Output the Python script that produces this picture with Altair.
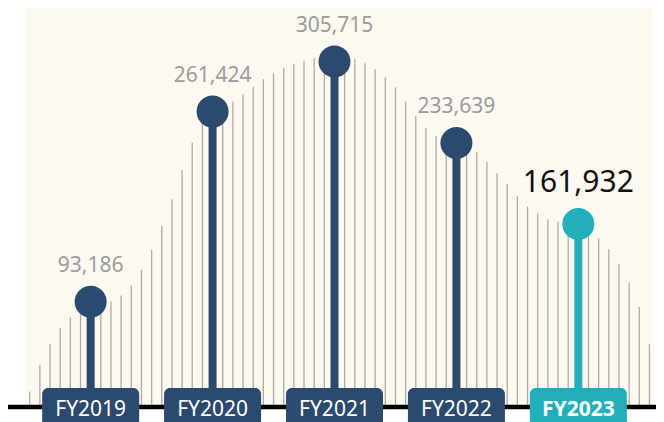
import altair as alt
import pandas as pd

# ---- data ----
years = ["FY2019", "FY2020", "FY2021", "FY2022", "FY2023"]
totals = [93186, 261424, 305715, 233639, 161932]
status = ["past", "past", "past", "past", "current"]
# decorative monthly trend lines (one per month)
monthly = [13700, 37170, 55490, 69650, 79210, 84960, 88500, 91160, 93370, 98680,
           107350, 121250, 138950, 160190, 183810, 209750, 233910, 253110, 261960, 265500,
           270190, 276740, 283470, 290010, 295320, 300280, 303560, 306480, 308600, 309480,
           309930, 309310, 307710, 304170, 298860, 291780, 282930, 270190, 257540, 247180,
           239840, 235410, 231870, 229220, 225680, 217090, 206820, 197360, 186470, 177270,
           171420, 166110, 163990, 161070, 157530, 153990, 149300, 139560, 126560, 110010,
           88500, 55490]

NAVY = "#2c4a6e"
TEAL = "#21afba"
CREAM = "#fdf9f1"
GREY_LINE = "#aeaaa4"
GREY_TEXT = "#9c9c9c"
FONT = "Noto Sans"

W, H = 648, 414

n = len(monthly)
mdf = pd.DataFrame({"m": list(range(n)), "v": monthly, "zero": [0] * n})
ydf = pd.DataFrame({
    "fy": years,
    "v": totals,
    "status": status,
    "m": [6 + 12 * i for i in range(len(years))],  # mid-year month
    "zero": [0] * len(years),
})
panel = pd.DataFrame({"m0": [-0.45], "m1": [n - 0.75], "top": [353098], "zero": [0]})

# 10.16 px per month, first month 21.7 px from the left edge
xs = alt.Scale(domain=[-2.136, -2.136 + W / 10.16], nice=False, zero=False, padding=0)
ys = alt.Scale(domain=[-13274, 353098], nice=False, zero=False, padding=0)
col = alt.Color("status:N", scale=alt.Scale(domain=["past", "current"], range=[NAVY, TEAL]), legend=None)

bg = alt.Chart(panel).mark_rect(color=CREAM).encode(
    x=alt.X("m0:Q", scale=xs, axis=None),
    x2="m1:Q",
    y=alt.Y("top:Q", scale=ys, axis=None),
    y2="zero:Q",
)

grey = alt.Chart(mdf).mark_rule(color=GREY_LINE, strokeWidth=1.3).encode(
    x=alt.X("m:Q", scale=xs, axis=None),
    y=alt.Y("v:Q", scale=ys, axis=None),
    y2="zero:Q",
)

stems = alt.Chart(ydf).mark_rule(strokeWidth=8).encode(
    x=alt.X("m:Q", scale=xs, axis=None),
    y=alt.Y("v:Q", scale=ys, axis=None),
    y2="zero:Q",
    color=col,
)

dots = alt.Chart(ydf).mark_circle(size=1024, opacity=1).encode(
    x=alt.X("m:Q", scale=xs, axis=None),
    y=alt.Y("v:Q", scale=ys, axis=None),
    color=col,
)

baseline = alt.Chart(panel).mark_rule(color="black", strokeWidth=4.5).encode(
    x=alt.value(0), x2=alt.value(W), y=alt.Y("zero:Q", scale=ys, axis=None)
)

lab_past = alt.Chart(ydf).transform_filter(alt.datum.status == "past").mark_text(
    font=FONT, fontSize=21, color=GREY_TEXT, baseline="alphabetic", dy=-30
).encode(
    x=alt.X("m:Q", scale=xs, axis=None),
    y=alt.Y("v:Q", scale=ys, axis=None),
    text=alt.Text("v:Q", format=","),
)

lab_cur = alt.Chart(ydf).transform_filter(alt.datum.status == "current").mark_text(
    font=FONT, fontSize=30, color="#111111", baseline="alphabetic", dy=-32
).encode(
    x=alt.X("m:Q", scale=xs, axis=None),
    y=alt.Y("v:Q", scale=ys, axis=None),
    text=alt.Text("v:Q", format=","),
)

boxes = alt.Chart(ydf).mark_bar(width=97, cornerRadius=6).encode(
    x=alt.X("m:Q", scale=xs, axis=None),
    y=alt.value(380),
    y2=alt.value(440),
    color=col,
)

fy_past = alt.Chart(ydf).transform_filter(alt.datum.status == "past").mark_text(
    font=FONT, fontSize=21, color="white", baseline="alphabetic"
).encode(
    x=alt.X("m:Q", scale=xs, axis=None),
    y=alt.value(408),
    text="fy:N",
)

fy_cur = alt.Chart(ydf).transform_filter(alt.datum.status == "current").mark_text(
    font=FONT, fontSize=21, fontWeight="bold", color="white", baseline="alphabetic"
).encode(
    x=alt.X("m:Q", scale=xs, axis=None),
    y=alt.value(408),
    text="fy:N",
)

chart = alt.layer(
    bg, grey, stems, dots, baseline, boxes, lab_past, lab_cur, fy_past, fy_cur
).properties(
    width=W, height=H,
    autosize=alt.AutoSizeParams(type="none"),
    padding=0,
).configure_view(stroke=None)

chart.save("out.html", embed_options={"renderer": "svg", "actions": False})
